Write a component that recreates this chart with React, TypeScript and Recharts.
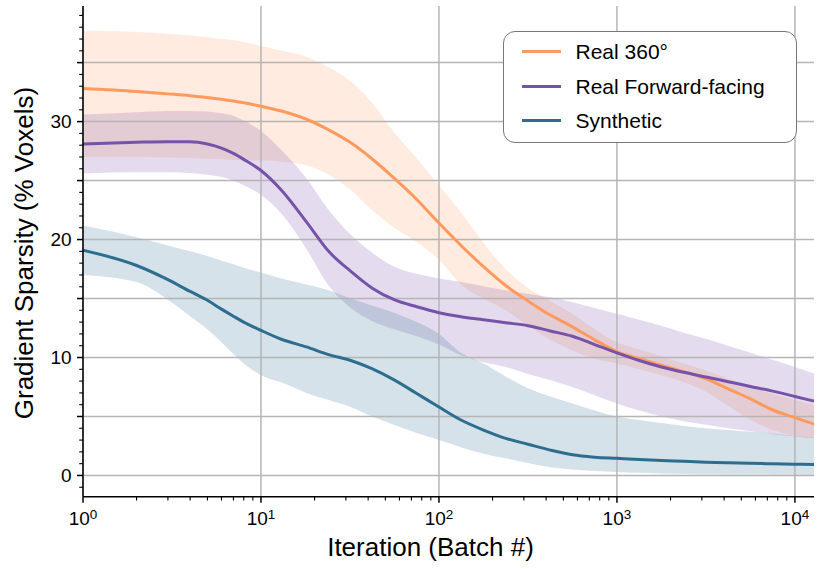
import React from 'react';
import { ComposedChart, Area, Line, XAxis, YAxis, ReferenceLine, Legend } from 'recharts';

const FONT = '"Liberation Sans", Arial, Helvetica, sans-serif';

const iterations = [1, 2, 3, 4, 5, 6, 7, 8, 10, 13, 18, 24, 32, 42, 56, 75, 100, 133, 178, 237, 316, 422, 562, 750, 1000, 1334, 1778, 2371, 3162, 4217, 5623, 7499, 10000, 12800];

const real360Mean = [32.8, 32.55, 32.35, 32.2, 32.05, 31.9, 31.75, 31.6, 31.3, 30.9, 30.2, 29.3, 28.2, 26.85, 25.2, 23.4, 21.4, 19.5, 17.7, 16.1, 14.8, 13.6, 12.6, 11.5, 10.5, 9.9, 9.35, 8.8, 8.2, 7.35, 6.5, 5.55, 4.9, 4.35];
const real360Upper = [37.7, 37.6, 37.45, 37.3, 37.15, 37.0, 36.9, 36.75, 36.4, 36.0, 35.5, 34.6, 33.4, 31.6, 29.1, 26.9, 24.6, 22.3, 19.7, 17.5, 15.9, 14.8, 13.7, 12.4, 11.3, 10.7, 10.1, 9.5, 8.9, 8.2, 7.5, 6.9, 6.4, 6.0];
const real360Lower = [27.0, 27.0, 26.95, 26.9, 26.85, 26.8, 26.75, 26.7, 26.7, 26.6, 26.3, 25.5, 24.2, 22.5, 21.0, 19.8, 18.3, 16.2, 15.0, 14.0, 12.7, 11.5, 10.6, 9.9, 9.5, 9.0, 8.5, 7.9, 7.1, 5.9, 4.7, 3.85, 3.35, 3.2];

const forwardMean = [28.1, 28.25, 28.3, 28.3, 28.1, 27.75, 27.3, 26.8, 25.85, 24.2, 21.5, 19.0, 17.3, 15.9, 14.9, 14.3, 13.8, 13.45, 13.2, 12.95, 12.7, 12.25, 11.8, 11.1, 10.4, 9.75, 9.2, 8.75, 8.35, 7.95, 7.55, 7.15, 6.7, 6.3];
const forwardUpper = [30.6, 30.8, 30.9, 30.9, 30.85, 30.7, 30.5, 30.1, 29.2, 27.6, 25.2, 22.5, 20.4, 18.9, 17.7, 17.1, 16.7, 16.4, 16.05, 15.7, 15.4, 15.1, 14.7, 14.2, 13.7, 13.2, 12.7, 12.1, 11.6, 11.0, 10.4, 9.8, 9.2, 8.65];
const forwardLower = [25.6, 25.7, 25.7, 25.65, 25.5, 25.3, 25.0, 24.6, 23.8, 22.2, 19.2, 16.1, 14.2, 13.1, 12.4, 11.8, 11.1, 10.2, 9.6, 9.2, 8.6, 8.1, 7.5, 6.8, 6.1, 5.5, 5.0, 4.6, 4.3, 4.0, 3.75, 3.5, 3.3, 3.15];

const syntheticMean = [19.1, 17.8, 16.6, 15.6, 14.85, 14.1, 13.5, 13.0, 12.3, 11.55, 10.9, 10.25, 9.75, 9.05, 8.1, 6.95, 5.8, 4.7, 3.85, 3.15, 2.65, 2.15, 1.75, 1.55, 1.45, 1.35, 1.27, 1.2, 1.13, 1.08, 1.03, 0.99, 0.95, 0.93];
const syntheticUpper = [21.2, 20.2, 19.5, 19.0, 18.6, 18.2, 17.9, 17.6, 17.2, 16.7, 16.2, 15.7, 15.0, 14.4, 13.8, 13.0, 12.0, 10.4, 9.5, 8.4, 7.4, 6.7, 6.1, 5.5, 5.0, 4.7, 4.45, 4.2, 4.0, 3.85, 3.7, 3.55, 3.35, 3.2];
const syntheticLower = [17.0, 16.4, 14.9, 13.5, 12.4, 11.3, 10.3, 9.5, 8.5, 7.9, 7.0, 6.4, 5.8, 5.0, 4.3, 3.6, 3.0, 2.4, 1.85, 1.45, 1.05, 0.7, 0.5, 0.38, 0.3, 0.22, 0.17, 0.13, 0.11, 0.09, 0.08, 0.07, 0.06, 0.05];

const seriesNames = ['Real 360°', 'Real Forward-facing', 'Synthetic'];
const seriesKeys = ['r360', 'fwd', 'syn'];
const seriesColors = ['#FF9A5E', '#7652A8', '#2D6E90'];

const xMajorTicks = [1, 10, 100, 1000, 10000];
const xMinorTicks = [2, 3, 4, 5, 6, 7, 8, 9, 20, 30, 40, 50, 60, 70, 80, 90, 200, 300, 400, 500, 600, 700, 800, 900, 2000, 3000, 4000, 5000, 6000, 7000, 8000, 9000];
const xDomain = [1, 12800];
const yDomain = [-1.8, 39.8];
const yTicks = [-1, 0, 1, 2, 3, 4, 5, 6, 7, 8, 9, 10, 11, 12, 13, 14, 15, 16, 17, 18, 19, 20, 21, 22, 23, 24, 25, 26, 27, 28, 29, 30, 31, 32, 33, 34, 35, 36, 37, 38, 39];
const yGridValues = [0, 5, 10, 15, 20, 25, 30, 35];
const yLabelValues = [0, 10, 20, 30];

const data = iterations.map((it, i) => ({
  it,
  r360: real360Mean[i],
  r360Band: [real360Lower[i], real360Upper[i]],
  fwd: forwardMean[i],
  fwdBand: [forwardLower[i], forwardUpper[i]],
  syn: syntheticMean[i],
  synBand: [syntheticLower[i], syntheticUpper[i]],
}));

const XTick = (props: any) => {
  const { x, y, payload } = props;
  const v = payload.value;
  const isMajor = xMajorTicks.includes(v);
  const exp = Math.round(Math.log10(v));
  return (
    <g>
      <line x1={x} x2={x} y1={y} y2={y + (isMajor ? 6 : 3.8)} stroke="#000" strokeWidth={isMajor ? 1.5 : 1.1} />
      {isMajor && (
        <text x={x} y={y + 28.3} textAnchor="middle" fontFamily={FONT} fontSize={19} fill="#000">
          <tspan>10</tspan>
          <tspan dy={-6} fontSize={13.5}>{exp}</tspan>
        </text>
      )}
    </g>
  );
};

const YTick = (props: any) => {
  const { x, y, payload } = props;
  const v = payload.value;
  const isMajor = yGridValues.includes(v);
  return (
    <g>
      <line x1={x - (isMajor ? 6 : 3.8)} x2={x} y1={y} y2={y} stroke="#000" strokeWidth={isMajor ? 1.5 : 1.1} />
      {yLabelValues.includes(v) && (
        <text x={x - 11.3} y={y + 6.8} textAnchor="end" fontFamily={FONT} fontSize={19} fill="#000">
          {v}
        </text>
      )}
    </g>
  );
};

const YLabel = (props: any) => {
  const { viewBox } = props;
  const cx = viewBox.x + 1.3;
  const cy = viewBox.y + viewBox.height / 2 + 1.7;
  return (
    <text x={cx} y={cy} transform={`rotate(-90, ${cx}, ${cy})`} textAnchor="middle" dominantBaseline="central" fontFamily={FONT} fontSize={26} fill="#000">
      Gradient Sparsity (% Voxels)
    </text>
  );
};

const XLabel = (props: any) => {
  const { viewBox } = props;
  const cx = viewBox.x + viewBox.width / 2 - 18;
  return (
    <text x={cx} y={viewBox.y + 59.3} textAnchor="middle" fontFamily={FONT} fontSize={26} fill="#000">
      Iteration (Batch #)
    </text>
  );
};

const LegendBox = () => (
  <div
    style={{
      boxSizing: 'border-box',
      width: 294,
      height: 112,
      border: '1.5px solid #777',
      borderRadius: 12,
      background: '#fff',
      paddingTop: 2,
      fontFamily: FONT,
    }}
  >
    {seriesNames.map((name, i) => (
      <div key={name} style={{ display: 'flex', alignItems: 'center', height: 34.7 }}>
        <div style={{ width: 39, height: 3, background: seriesColors[i], marginLeft: 17.5, marginRight: 15 }} />
        <span style={{ fontSize: 21, color: '#000', lineHeight: '21px' }}>{name}</span>
      </div>
    ))}
  </div>
);

export default function App() {
  return (
    <div style={{ position: 'absolute', top: 0, left: 0, width: 830, height: 569, background: '#fff' }}>
      <ComposedChart width={830} height={569} data={data} margin={{ top: 6, right: 16, left: 23, bottom: 22.3 }}>
        <XAxis
          dataKey="it"
          type="number"
          scale="log"
          domain={xDomain}
          ticks={[...xMajorTicks, ...xMinorTicks]}
          interval={0}
          tick={<XTick />}
          tickLine={false}
          tickSize={0}
          tickMargin={0}
          height={50}
          axisLine={{ stroke: '#000', strokeWidth: 1.5 }}
          allowDataOverflow
          label={<XLabel />}
        />
        <XAxis
          xAxisId="top"
          orientation="top"
          type="number"
          scale="log"
          domain={xDomain}
          tick={false}
          tickLine={false}
          height={0}
          axisLine={{ stroke: '#000', strokeWidth: 1.5 }}
          allowDataOverflow
        />
        <YAxis
          type="number"
          domain={yDomain}
          ticks={yTicks}
          interval={0}
          tick={<YTick />}
          tickLine={false}
          tickSize={0}
          tickMargin={0}
          width={60}
          axisLine={{ stroke: '#000', strokeWidth: 1.5 }}
          allowDataOverflow
          label={<YLabel />}
        />
        <YAxis
          yAxisId="right"
          orientation="right"
          type="number"
          domain={yDomain}
          tick={false}
          tickLine={false}
          width={0}
          axisLine={{ stroke: '#000', strokeWidth: 1.5 }}
          allowDataOverflow
        />
        {xMajorTicks.map((v) => (
          <ReferenceLine key={'gx' + v} x={v} stroke="#b5b5b5" strokeWidth={1.5} />
        ))}
        {yGridValues.map((v) => (
          <ReferenceLine key={'gy' + v} y={v} stroke="#b5b5b5" strokeWidth={1.5} />
        ))}
        {seriesKeys.map((k, i) => (
          <Area
            key={k + 'Band'}
            dataKey={k + 'Band'}
            type="monotone"
            stroke="none"
            fill={seriesColors[i]}
            fillOpacity={0.2}
            isAnimationActive={false}
            legendType="none"
            activeDot={false}
            dot={false}
          />
        ))}
        {seriesKeys.map((k, i) => (
          <Line
            key={k}
            dataKey={k}
            name={seriesNames[i]}
            type="monotone"
            stroke={seriesColors[i]}
            strokeWidth={3}
            dot={false}
            activeDot={false}
            isAnimationActive={false}
          />
        ))}
        <Legend
          layout="horizontal"
          verticalAlign="middle"
          align="center"
          content={<LegendBox />}
          wrapperStyle={{ top: 31, left: 503, width: 294, height: 112 }}
        />
      </ComposedChart>
    </div>
  );
}
